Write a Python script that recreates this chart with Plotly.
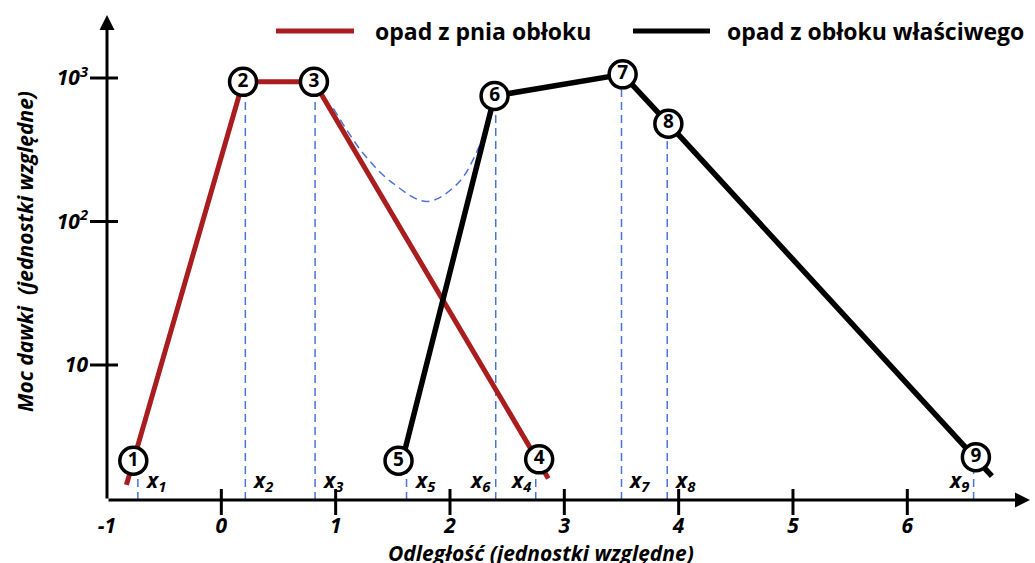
import numpy as np
import plotly.graph_objects as go

# ---------------- data ----------------
point_labels = ["1", "2", "3", "4", "5", "6", "7", "8", "9"]
point_x = [-0.77, 0.19, 0.81, 2.78, 1.55, 2.39, 3.51, 3.91, 6.60]
point_y = [2.15, 940, 940, 2.2, 2.15, 750, 1060, 480, 2.28]

red_name = "opad z pnia obłoku"
red_x = [-0.83, 0.19, 0.81, 2.86]
red_y = [1.46, 940, 940, 1.62]

black_name = "opad z obłoku właściwego"
black_x = [1.55, 2.39, 3.51, 3.91, 6.74]
black_y = [1.71, 750, 1060, 480, 1.68]

curve_x = [0.98, 1.24, 1.50, 1.80, 2.07, 2.24, 2.37]
curve_y = [615, 299, 185, 138, 185, 313, 615]

marker_names = ["x<sub>1</sub>", "x<sub>2</sub>", "x<sub>3</sub>", "x<sub>4</sub>", "x<sub>5</sub>",
                "x<sub>6</sub>", "x<sub>7</sub>", "x<sub>8</sub>", "x<sub>9</sub>"]
marker_x = [-0.73, 0.21, 0.82, 2.75, 1.62, 2.40, 3.50, 3.90, 6.58]
marker_top = [2.15, 940, 940, 2.2, 2.15, 750, 1060, 480, 2.28]
marker_side = ["r", "r", "r", "l", "r", "l", "r", "r", "l"]

x_ticks = [-1, 0, 1, 2, 3, 4, 5, 6]
x_tick_text = ["-1", "0", "1", "2", "3", "4", "5", "6"]
y_ticks = [10, 100, 1000]
y_tick_text = ["10", "10<sup>2</sup>", "10<sup>3</sup>"]

x_title = "Odległość (jednostki względne)"
y_title = "Moc dawki  (jednostki względne)"

# ---------------- layout constants ----------------
W, H = 1035, 563
ML, MR, MT, MB = 107, 5, 15, 63
PW, PH = W - ML - MR, H - MT - MB
XPX = 114.33  # px per x unit
YPX = 143.5   # px per decade
x_range = [-1, -1 + PW / XPX]
y_lo = 0.0592
y_range = [y_lo, y_lo + PH / YPX]
y_bottom = 10 ** y_lo

RED = "#AA1D1F"
BLACK = "#000000"
BLUE = "#4A74D6"
FONT = "Open Sans"


def px2paper_x(px):
    return (px - ML) / PW


def px2paper_y(py):
    return (H - MB - py) / PH


fig = go.Figure()

# dashed vertical markers
for mx, mt in zip(marker_x, marker_top):
    fig.add_trace(go.Scatter(x=[mx, mx], y=[y_bottom, mt], mode="lines",
                             line=dict(color=BLUE, width=1.5, dash="8px,5px"),
                             hoverinfo="skip", showlegend=False))

# dashed sum curve
fig.add_trace(go.Scatter(x=curve_x, y=curve_y, mode="lines",
                         line=dict(color=BLUE, width=1.5, dash="8px,5px", shape="spline"),
                         hoverinfo="skip", showlegend=False))

fig.add_trace(go.Scatter(x=red_x, y=red_y, mode="lines", name=red_name,
                         line=dict(color=RED, width=5), showlegend=False))
fig.add_trace(go.Scatter(x=black_x, y=black_y, mode="lines", name=black_name,
                         line=dict(color=BLACK, width=5.5), showlegend=False))

fig.add_trace(go.Scatter(x=point_x, y=point_y, mode="markers+text", text=point_labels,
                         textposition="middle center",
                         textfont=dict(family=FONT, size=19, color="black", weight="bold"),
                         marker=dict(size=27, color="white", line=dict(color="black", width=3.5)),
                         showlegend=False, hoverinfo="skip"))

shapes = []
annotations = []

# axis arrows
annotations.append(dict(x=1, y=0, xref="paper", yref="paper", ax=-PW, ay=0, text="",
                        showarrow=True, arrowhead=2, arrowsize=1.0, arrowwidth=3,
                        arrowcolor="black"))
annotations.append(dict(x=0, y=1, xref="paper", yref="paper", ax=0, ay=PH, text="",
                        showarrow=True, arrowhead=2, arrowsize=1.0, arrowwidth=3,
                        arrowcolor="black"))

# tick marks (crossing the axes)
for t in x_ticks[1:]:
    shapes.append(dict(type="line", xref="x", yref="paper", ysizemode="pixel", yanchor=0,
                       x0=t, x1=t, y0=-15, y1=11, line=dict(color="black", width=3)))
for t in y_ticks:
    shapes.append(dict(type="line", xref="paper", yref="y", xsizemode="pixel", xanchor=0,
                       x0=-17, x1=11, y0=t, y1=t,
                       line=dict(color="black", width=3)))

# x_i labels
for name, mx, side in zip(marker_names, marker_x, marker_side):
    annotations.append(dict(x=mx, y=px2paper_y(481), xref="x", yref="paper",
                            text=name, showarrow=False,
                            xanchor="left" if side == "r" else "right",
                            xshift=5 if side == "r" else -3, yanchor="middle",
                            font=dict(family=FONT, size=21, color="black",
                                      weight="bold", style="italic")))

# legend
shapes.append(dict(type="line", xref="paper", yref="paper", x0=px2paper_x(276), x1=px2paper_x(354),
                   y0=px2paper_y(31), y1=px2paper_y(31), line=dict(color=RED, width=5)))
shapes.append(dict(type="line", xref="paper", yref="paper", x0=px2paper_x(633), x1=px2paper_x(710),
                   y0=px2paper_y(31), y1=px2paper_y(31), line=dict(color=BLACK, width=5)))
annotations.append(dict(x=px2paper_x(373), y=px2paper_y(31), xref="paper", yref="paper",
                        text=red_name, showarrow=False, xanchor="left", yanchor="middle",
                        font=dict(family=FONT, size=23, color="black", weight="bold")))
annotations.append(dict(x=px2paper_x(725), y=px2paper_y(31), xref="paper", yref="paper",
                        text=black_name, showarrow=False, xanchor="left", yanchor="middle",
                        font=dict(family=FONT, size=23, color="black", weight="bold")))

# axis titles
annotations.append(dict(x=px2paper_x(541), y=px2paper_y(553), xref="paper", yref="paper",
                        text=x_title, showarrow=False, xanchor="center", yanchor="middle",
                        font=dict(family=FONT, size=21, color="black", weight="bold",
                                  style="italic")))
annotations.append(dict(x=px2paper_x(25), y=px2paper_y(252), xref="paper", yref="paper",
                        text=y_title, showarrow=False, xanchor="center", yanchor="middle",
                        textangle=-90,
                        font=dict(family=FONT, size=21, color="black", weight="bold",
                                  style="italic")))

fig.update_layout(
    width=W, height=H,
    margin=dict(l=ML, r=MR, t=MT, b=MB),
    paper_bgcolor="white", plot_bgcolor="white",
    shapes=shapes, annotations=annotations,
    showlegend=False,
    xaxis=dict(range=x_range, showgrid=False, zeroline=False, showline=False,
               tickvals=x_ticks, ticktext=x_tick_text, ticks="", ticklabelstandoff=11,
               tickfont=dict(family=FONT, size=21, color="black", weight="bold",
                             style="italic")),
    yaxis=dict(type="log", range=y_range, showgrid=False, zeroline=False, showline=False,
               tickvals=y_ticks, ticktext=y_tick_text, ticks="", ticklabelstandoff=18,
               tickfont=dict(family=FONT, size=21, color="black", weight="bold",
                             style="italic")),
)

fig.write_html("out.html")
